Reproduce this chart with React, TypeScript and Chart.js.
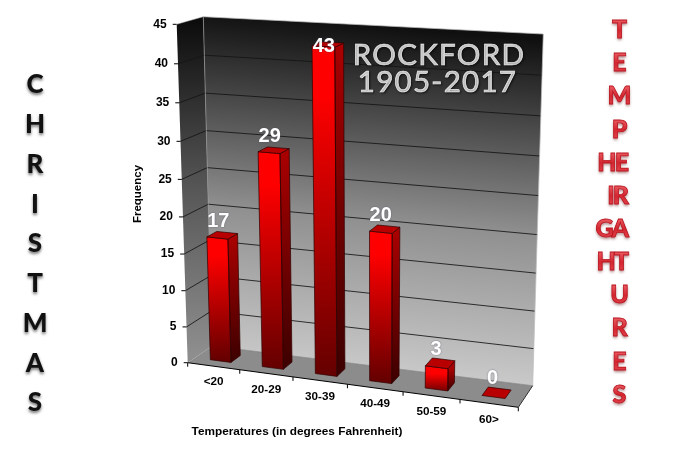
import React, { useEffect, useRef } from "react";
import { Chart, registerables } from "chart.js";

Chart.register(...registerables);

const categories = ["<20", "20-29", "30-39", "40-49", "50-59", "60>"];
const frequencies = [17, 29, 43, 20, 3, 0];
const yMax = 45;
const yStep = 5;
const yTitle = "Frequency";
const xTitle = "Temperatures (in degrees Fahrenheit)";
const titleLines = ["ROCKFORD", "1905-2017"];
const leftLetters = ["C", "H", "R", "I", "S", "T", "M", "A", "S"];
const rightRows = ["T", "E", "M", "P", "HE", "IR", "GA", "HT", "U", "R", "E", "S"];

type Pt = [number, number];

// unit square -> quad: corners (u,w) = (0,0), (1,0), (1,1), (0,1)
function homography(p0: Pt, p1: Pt, p2: Pt, p3: Pt) {
  const dx1 = p1[0] - p2[0], dx2 = p3[0] - p2[0], dx3 = p0[0] - p1[0] + p2[0] - p3[0];
  const dy1 = p1[1] - p2[1], dy2 = p3[1] - p2[1], dy3 = p0[1] - p1[1] + p2[1] - p3[1];
  const den = dx1 * dy2 - dx2 * dy1;
  const g = (dx3 * dy2 - dx2 * dy3) / den;
  const h = (dx1 * dy3 - dx3 * dy1) / den;
  const a = p1[0] - p0[0] + g * p1[0], b = p3[0] - p0[0] + h * p3[0], c = p0[0];
  const d = p1[1] - p0[1] + g * p1[1], e = p3[1] - p0[1] + h * p3[1], f = p0[1];
  return (u: number, w: number): Pt => {
    const q = g * u + h * w + 1;
    return [(a * u + b * w + c) / q, (d * u + e * w + f) / q];
  };
}

// the view: front plane and back plane of the 3-D box
const frontPlane = homography([187.7, 362.7], [518.3, 407.3], [526.8, 46.5], [176.7, 24.3]);
const backPlane = homography([212, 346], [532.7, 385.7], [543.3, 34], [203.3, 16.7]);
const project = (u: number, v: number, w: number): Pt => {
  const a = frontPlane(u, w), b = backPlane(u, w);
  return [a[0] + (b[0] - a[0]) * v, a[1] + (b[1] - a[1]) * v];
};

function poly(ctx: CanvasRenderingContext2D, pts: Pt[]) {
  ctx.beginPath();
  pts.forEach((p, i) => (i ? ctx.lineTo(p[0], p[1]) : ctx.moveTo(p[0], p[1])));
  ctx.closePath();
}

function line(ctx: CanvasRenderingContext2D, a: Pt, b: Pt, color: string, width = 1) {
  ctx.beginPath();
  ctx.moveTo(a[0], a[1]);
  ctx.lineTo(b[0], b[1]);
  ctx.strokeStyle = color;
  ctx.lineWidth = width;
  ctx.stroke();
}

function vGrad(ctx: CanvasRenderingContext2D, top: Pt, bottom: Pt, slope: number, stops: [number, string][]) {
  // gradient direction is normal to the wall's grid lines
  const len = bottom[1] - top[1];
  const g = ctx.createLinearGradient(top[0], top[1], top[0] - slope * len, top[1] + len);
  stops.forEach(([o, c]) => g.addColorStop(o, c));
  return g;
}

const FRONT_V = 0.3;
const BACK_V = 0.7;

const perspectivePlugin = {
  id: "perspective",
  beforeDatasetsDraw(chart: any) {
    const ctx: CanvasRenderingContext2D = chart.ctx;
    const xs = chart.scales.x;
    const ys = chart.scales.y;
    const meta = chart.getDatasetMeta(0);
    const toW = (px: number) => (ys.bottom - px) / (ys.bottom - ys.top);
    const toU = (px: number) => (px - xs.left) / (xs.right - xs.left);
    ctx.save();

    // ---- walls and floor
    const wallEdge = "rgba(190,190,190,0.75)";
    poly(ctx, [project(0, 1, 0), project(1, 1, 0), project(1, 1, 1), project(0, 1, 1)]);
    ctx.fillStyle = vGrad(ctx, project(0.5, 1, 1), project(0.5, 1, 0), 0.09, [
      [0, "#101010"], [0.57, "#909090"], [1, "#c8c8c8"],
    ]);
    ctx.fill();
    poly(ctx, [project(0, 0, 0), project(0, 1, 0), project(0, 1, 1), project(0, 0, 1)]);
    ctx.fillStyle = vGrad(ctx, project(0, 0.5, 1), project(0, 0.5, 0), 0, [
      [0, "#0c0c0c"], [0.5, "#565656"], [1, "#8e8e8e"],
    ]);
    ctx.fill();
    poly(ctx, [project(0, 0, 0), project(1, 0, 0), project(1, 1, 0), project(0, 1, 0)]);
    ctx.fillStyle = "#8c8c8c";
    ctx.fill();

    // ---- grid lines through the value scale
    ys.ticks.forEach((t: any) => {
      const w = toW(ys.getPixelForValue(t.value));
      if (t.value > 0 && t.value < yMax) {
        line(ctx, project(0, 1, w), project(1, 1, w), "rgba(20,20,20,0.85)");
        line(ctx, project(0, 0, w), project(0, 1, w), "rgba(20,20,20,0.85)");
      }
      const p = project(0, 0, w);
      line(ctx, p, [p[0] - 4, p[1]], "#000");
      ctx.fillStyle = "#000";
      ctx.font = "bold 12px 'Liberation Sans'";
      ctx.textAlign = "right";
      ctx.textBaseline = "middle";
      ctx.fillText(String(t.value), p[0] - 10, p[1]);
    });

    // ---- wall edges
    line(ctx, project(0, 1, 1), project(1, 1, 1), wallEdge);
    line(ctx, project(1, 1, 1), project(1, 1, 0), wallEdge);
    line(ctx, project(0, 1, 1), project(0, 1, 0), "rgba(150,150,150,0.7)");
    line(ctx, project(0, 0, 1), project(0, 1, 1), "rgba(170,170,170,0.5)");
    line(ctx, project(1, 0, 0), project(1, 1, 0), "#333");
    line(ctx, project(0, 1, 0), project(1, 1, 0), "rgba(120,120,120,0.6)");
    line(ctx, project(0, 0, 0), project(1, 0, 0), "#000");

    // ---- category ticks and labels through the category scale
    const n = categories.length;
    for (let i = 0; i <= n; i++) {
      const p = project(i / n, 0, 0);
      line(ctx, p, [p[0], p[1] + 4], "#000");
    }
    categories.forEach((label, i) => {
      const u = toU(xs.getPixelForValue(i));
      const p = project(u, 0, 0);
      ctx.fillStyle = "#000";
      ctx.font = "bold 11.7px 'Liberation Sans'";
      ctx.textAlign = "center";
      ctx.textBaseline = "middle";
      ctx.fillText(label, p[0], p[1] + 16);
    });

    // ---- bars
    meta.data.forEach((el: any, i: number) => {
      const uc = toU(el.x);
      const du = el.width / 2 / (xs.right - xs.left);
      const u0 = uc - du, u1 = uc + du;
      const wt = toW(el.y);
      const wb = toW(el.base);
      const flb = project(u0, FRONT_V, wb), frb = project(u1, FRONT_V, wb);
      const flt = project(u0, FRONT_V, wt), frt = project(u1, FRONT_V, wt);
      const brb = project(u1, BACK_V, wb), brt = project(u1, BACK_V, wt);
      const blt = project(u0, BACK_V, wt);
      const edge = "rgba(50,0,0,0.9)";
      if (frequencies[i] > 0) {
        const dark = frequencies[i] < 5 ? "#8a0000" : "#660000";
        const gf = ctx.createLinearGradient(flt[0], flt[1], flb[0], flb[1]);
        gf.addColorStop(0, "#ff0000");
        gf.addColorStop(frequencies[i] < 5 ? 0.35 : 0.15, "#ff0000");
        gf.addColorStop(1, dark);
        poly(ctx, [flb, frb, frt, flt]);
        ctx.fillStyle = gf;
        ctx.fill();
        const gs = ctx.createLinearGradient(frt[0], frt[1], frb[0], frb[1]);
        gs.addColorStop(0, "#a80000");
        gs.addColorStop(1, "#3c0000");
        poly(ctx, [frb, brb, brt, frt]);
        ctx.fillStyle = gs;
        ctx.fill();
        ctx.strokeStyle = edge;
        ctx.lineWidth = 0.8;
        poly(ctx, [flb, frb, frt, flt]);
        ctx.stroke();
        poly(ctx, [frb, brb, brt, frt]);
        ctx.stroke();
      }
      poly(ctx, [flt, frt, brt, blt]);
      ctx.fillStyle = "#b80000";
      ctx.fill();
      ctx.strokeStyle = edge;
      ctx.lineWidth = 0.8;
      ctx.stroke();
    });

    // ---- value labels
    meta.data.forEach((el: any, i: number) => {
      const c = project(toU(el.x), (FRONT_V + BACK_V) / 2, toW(el.y));
      ctx.save();
      ctx.font = "bold 20px 'Liberation Sans'";
      ctx.fillStyle = "#ffffff";
      ctx.textAlign = "center";
      ctx.textBaseline = "middle";
      ctx.shadowColor = "rgba(60,60,90,0.6)";
      ctx.shadowBlur = 2;
      ctx.fillText(String(frequencies[i]), c[0] - 4, Math.max(c[1] - 14, 46));
      ctx.restore();
    });

    ctx.restore();
    return false; // the bars were drawn in the 3-D view above
  },
  afterDraw(chart: any) {
    const ctx: CanvasRenderingContext2D = chart.ctx;
    ctx.save();
    ctx.textBaseline = "middle";

    // axis titles
    ctx.fillStyle = "#000";
    ctx.textAlign = "center";
    ctx.font = "bold 11.8px 'Liberation Sans'";
    ctx.fillText(xTitle, 297, 431.5);
    ctx.font = "bold 11.5px 'Liberation Sans'";
    ctx.save();
    ctx.translate(138, 194);
    ctx.rotate(-Math.PI / 2);
    ctx.fillText(yTitle, 0, 0);
    ctx.restore();

    // heading on the back wall
    ctx.font = "29.5px Lato";
    (ctx as any).letterSpacing = "1.3px";
    ctx.fillStyle = "#e6e6e6";
    ctx.strokeStyle = "#e6e6e6";
    ctx.lineWidth = 0.7;
    ctx.shadowColor = "rgba(0,0,0,0.6)";
    ctx.shadowBlur = 2;
    ctx.shadowOffsetX = 1;
    ctx.shadowOffsetY = 1;
    ctx.fillText(titleLines[0], 439, 55);
    ctx.strokeText(titleLines[0], 439, 55);
    ctx.fillText(titleLines[1], 437.5, 82.5);
    ctx.strokeText(titleLines[1], 437.5, 82.5);
    (ctx as any).letterSpacing = "0px";

    // side texts
    ctx.font = "900 26px Lato";
    ctx.fillStyle = "#111";
    ctx.shadowColor = "rgba(0,0,0,0.55)";
    ctx.shadowBlur = 3;
    ctx.shadowOffsetX = 0;
    ctx.shadowOffsetY = 2;
    leftLetters.forEach((ch, i) => ctx.fillText(ch, 35, 85 + i * 39.75));

    ctx.font = "900 25px Lato";
    ctx.shadowColor = "rgba(90,0,0,0.5)";
    ctx.strokeStyle = "#b8141e";
    ctx.lineWidth = 0.8;
    rightRows.forEach((row, i) => {
      const y = 30 + i * 33.15;
      const g = ctx.createLinearGradient(0, y - 10, 0, y + 10);
      g.addColorStop(0, "#ea5a62");
      g.addColorStop(0.5, "#d42630");
      g.addColorStop(1, "#e2444e");
      (ctx as any).letterSpacing = row.length > 1 ? "-2px" : "0px";
      const multi = row.length > 1;
      ctx.textAlign = multi ? "right" : "center";
      const x = multi ? 627 : 619.5;
      ctx.fillStyle = g;
      ctx.fillText(row, x, y);
      ctx.shadowColor = "transparent";
      ctx.strokeText(row, x, y);
      ctx.shadowColor = "rgba(90,0,0,0.5)";
    });
    ctx.restore();
  },
};

export default function App() {
  const ref = useRef<HTMLCanvasElement>(null);
  useEffect(() => {
    if (!ref.current) return;
    const chart = new Chart(ref.current, {
      type: "bar",
      data: {
        labels: categories,
        datasets: [
          {
            label: yTitle,
            data: frequencies,
            backgroundColor: "#ff0000",
            barPercentage: 0.4,
            categoryPercentage: 1,
          },
        ],
      },
      options: {
        responsive: false,
        animation: false,
        devicePixelRatio: 1,
        layout: { padding: 0 },
        plugins: { legend: { display: false }, tooltip: { enabled: false }, title: { display: false } },
        scales: {
          x: { display: false, grid: { display: false }, offset: true },
          y: { display: false, min: 0, max: yMax, ticks: { stepSize: yStep }, grid: { display: false } },
        },
      },
      plugins: [perspectivePlugin],
    } as any);
    return () => chart.destroy();
  }, []);
  return (
    <div style={{ position: "fixed", left: 0, top: 0, width: 680, height: 462, background: "#fff" }}>
      <canvas ref={ref} width={680} height={462} style={{ display: "block" }} />
    </div>
  );
}
